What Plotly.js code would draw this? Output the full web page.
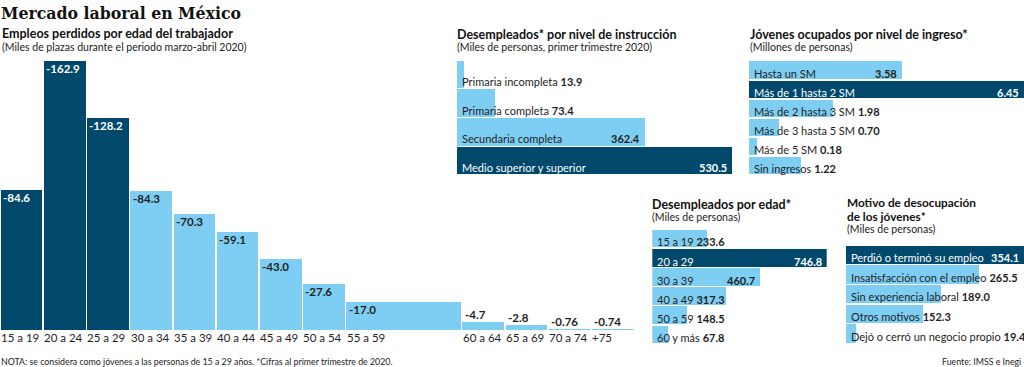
<!DOCTYPE html>
<html><head><meta charset="utf-8">
<script src="https://cdn.plot.ly/plotly-3.0.1.min.js"></script>
<style>html,body{margin:0;padding:0;background:#fff}#chart{width:1024px;height:367px}</style>
</head><body><div id="chart"></div>
<script>
// ---------------- DATA ----------------
const ageGroups = ['15 a 19','20 a 24','25 a 29','30 a 34','35 a 39','40 a 44','45 a 49','50 a 54','55 a 59','60 a 64','65 a 69','70 a 74','+75'];
const jobsLost = [-84.6,-162.9,-128.2,-84.3,-70.3,-59.1,-43.0,-27.6,-17.0,-4.7,-2.8,-0.76,-0.74];
const youthGroups = ['15 a 19','20 a 24','25 a 29'];

const eduLevels = ['Primaria incompleta','Primaria completa','Secundaria completa','Medio superior y superior'];
const eduUnemployed = [13.9,73.4,362.4,530.5];

const incomeLevels = ['Hasta un SM','Más de 1 hasta 2 SM','Más de 2 hasta 3 SM','Más de 3 hasta 5 SM','Más de 5 SM','Sin ingresos'];
const youthEmployedM = [3.58,6.45,1.98,0.70,0.18,1.22];

const unempAges = ['15 a 19','20 a 29','30 a 39','40 a 49','50 a 59','60 y más'];
const unempByAge = [233.6,746.8,460.7,317.3,148.5,67.8];

const reasons = ['Perdió o terminó su empleo','Insatisfacción con el empleo','Sin experiencia laboral','Otros motivos','Dejó o cerró un negocio propio'];
const youthReasons = [354.1,265.5,189.0,152.3,19.4];

// ---------------- STYLE ----------------
const W = 1024, H = 367;
const DARK = '#00496d', LIGHT = '#7ecef3', TEXT = '#1e1e1e';
const FONT = 'Lato, "Open Sans", sans-serif';
const SERIF = '"DejaVu Serif Condensed", "DejaVu Serif", serif';
const px = x => x / W;
const py = y => 1 - y / H;

const cv = document.createElement('canvas').getContext('2d');
function tw(t, size, bold) { cv.font = (bold ? 'bold ' : '') + size + 'px Lato'; return cv.measureText(t).width; }

const traces = [];
const annotations = [];
const layout = {
  width: W, height: H, margin: {l: 0, r: 0, t: 0, b: 0},
  paper_bgcolor: '#fff', plot_bgcolor: 'rgba(0,0,0,0)',
  showlegend: false, font: {family: FONT, color: TEXT, size: 11},
  annotations: annotations, bargap: 0
};

function txt(text, x, y, opt) {
  annotations.push(Object.assign({
    text: text, x: px(x), y: py(y), xref: 'paper', yref: 'paper',
    xanchor: 'left', yanchor: 'middle', showarrow: false, borderpad: 0,
    font: {family: FONT, size: 11, color: TEXT}
  }, opt || {}));
}

// ---------------- MAIN CHART ----------------
const slotSpan = ageGroups.map(g => g === '55 a 59' ? 2.685 : 1);
const slotGap = 0.04;
const lefts = [];
let acc = 0;
slotSpan.forEach(s => { lefts.push(acc); acc += s; });
const totalSlots = acc;
const mainBase = 330, mainTop = 30, mainRight = 634.4;
const mainRange = 181.5;
const pxPerUnit = (mainBase - mainTop) / mainRange;

traces.push({
  type: 'bar', xaxis: 'x', yaxis: 'y',
  x: lefts.map((l, i) => l + slotSpan[i] / 2),
  y: jobsLost,
  width: slotSpan.map(s => s - slotGap),
  marker: {color: ageGroups.map(g => youthGroups.includes(g) ? DARK : LIGHT), line: {width: 0}},
  hoverinfo: 'skip', textposition: 'none'
});
layout.xaxis = {domain: [0, px(mainRight)], range: [0, totalSlots], visible: false, fixedrange: true};
layout.yaxis = {domain: [py(mainBase), py(mainTop)], range: [0, -mainRange], visible: false, fixedrange: true};

ageGroups.forEach((g, i) => {
  const v = jobsLost[i];
  const lab = Math.abs(v) < 1 ? v.toFixed(2) : v.toFixed(1);
  const hPx = Math.abs(v) * pxPerUnit;
  const inside = hPx > 20;
  annotations.push({
    text: '<b>' + lab + '</b>', x: lefts[i], y: v, xref: 'x', yref: 'y',
    xanchor: 'left', yanchor: inside ? 'top' : 'bottom', xshift: 1, yshift: inside ? 1 : -1,
    showarrow: false,
    font: {family: FONT, size: 11.5, color: (inside && youthGroups.includes(g)) ? '#fff' : TEXT}
  });
  annotations.push({
    text: g, x: lefts[i], y: 0, xref: 'x', yref: 'y',
    xanchor: 'left', yanchor: 'top', xshift: -1, yshift: 1, showarrow: false,
    font: {family: FONT, size: 11.5, color: TEXT}
  });
});

// ---------------- HORIZONTAL PANELS ----------------
function panel(n, cats, vals, dec, xl, xr, yt, yb, barW, labShift) {
  const xa = 'x' + n, ya = 'y' + n;
  const max = Math.max(...vals);
  traces.push({
    type: 'bar', orientation: 'h', xaxis: xa, yaxis: ya,
    x: vals, y: cats, width: cats.map(() => barW),
    marker: {color: vals.map(v => v === max ? DARK : LIGHT), line: {width: 0}},
    hoverinfo: 'skip', textposition: 'none'
  });
  layout['xaxis' + n] = {domain: [px(xl), px(xr)], range: [0, max], visible: false, fixedrange: true, anchor: ya};
  layout['yaxis' + n] = {domain: [py(yb), py(yt)], type: 'category', range: [cats.length - 0.5, -0.5], visible: false, fixedrange: true, anchor: xa};
  const domPx = xr - xl;
  const fs = 11;
  cats.forEach((c, i) => {
    const v = vals[i];
    const vs = v.toFixed(dec);
    const barPx = v / max * domPx;
    const dark = v === max;
    const col = dark ? '#fff' : TEXT;
    const lw = tw(c, fs, false), vw = tw(vs, fs, true);
    if (4 + lw + 6 + vw + 3 <= barPx) {
      annotations.push({text: c, x: 0, y: c, xref: xa, yref: ya, xanchor: 'left', yanchor: 'middle',
        xshift: 3, yshift: labShift, showarrow: false, font: {family: FONT, size: fs, color: col}});
      annotations.push({text: '<b>' + vs + '</b>', x: v, y: c, xref: xa, yref: ya, xanchor: 'right', yanchor: 'middle',
        xshift: -3, yshift: labShift, showarrow: false, font: {family: FONT, size: fs, color: col}});
    } else {
      annotations.push({text: c + '\u00a0<b>' + vs + '</b>', x: 0, y: c, xref: xa, yref: ya, xanchor: 'left', yanchor: 'middle',
        xshift: 3, yshift: labShift, showarrow: false, font: {family: FONT, size: fs, color: col}});
    }
  });
}
panel(2, eduLevels, eduUnemployed, 1, 456.7, 732.3, 60, 175, 0.955, -7);
panel(3, incomeLevels, youthEmployedM, 2, 749, 1024, 60.7, 175, 0.92, -3.3);
panel(4, unempAges, unempByAge, 1, 652.3, 826.7, 229, 344, 0.92, -3.3);
panel(5, reasons, youthReasons, 1, 846, 1024, 245, 343.3, 0.92, -2.8);

// ---------------- TITLES & NOTES ----------------
txt('<b>Mercado laboral en México</b>', 0, 12.5, {font: {family: SERIF, size: 17.5, color: '#111'}});
txt('<b>Empleos perdidos por edad del trabajador</b>', 1, 33, {font: {family: FONT, size: 12.5, color: '#111'}});
txt('(Miles de plazas durante el periodo marzo-abril 2020)', 1, 47, {font: {family: FONT, size: 10.5, color: '#222'}});
txt('<b>Desempleados* por nivel de instrucción</b>', 456, 35, {font: {family: FONT, size: 12.5, color: '#111'}});
txt('(Miles de personas, primer trimestre 2020)', 456, 47, {font: {family: FONT, size: 10.5, color: '#222'}});
txt('<b>Jóvenes ocupados por nivel de ingreso*</b>', 749, 35, {font: {family: FONT, size: 12.5, color: '#111'}});
txt('(Millones de personas)', 749, 47, {font: {family: FONT, size: 10.5, color: '#222'}});
txt('<b>Desempleados por edad*</b>', 651, 204, {font: {family: FONT, size: 12.5, color: '#111'}});
txt('(Miles de personas)', 651, 216.7, {font: {family: FONT, size: 10.5, color: '#222'}});
txt('<b>Motivo de desocupación</b>', 846, 202.5, {font: {family: FONT, size: 11.8, color: '#111'}});
txt('<b>de los jóvenes*</b>', 846, 216, {font: {family: FONT, size: 11.8, color: '#111'}});
txt('(Miles de personas)', 846, 228.5, {font: {family: FONT, size: 10.5, color: '#222'}});
txt('NOTA: se considera como jóvenes a las personas de 15 a 29 años. *Cifras al primer trimestre de 2020.', 0, 361, {font: {family: FONT, size: 8.8, color: '#222'}});
txt('Fuente: IMSS e Inegi', 1022, 361, {xanchor: 'right', font: {family: FONT, size: 8.8, color: '#222'}});

Plotly.newPlot('chart', traces, layout, {staticPlot: true, displayModeBar: false});
</script></body></html>
